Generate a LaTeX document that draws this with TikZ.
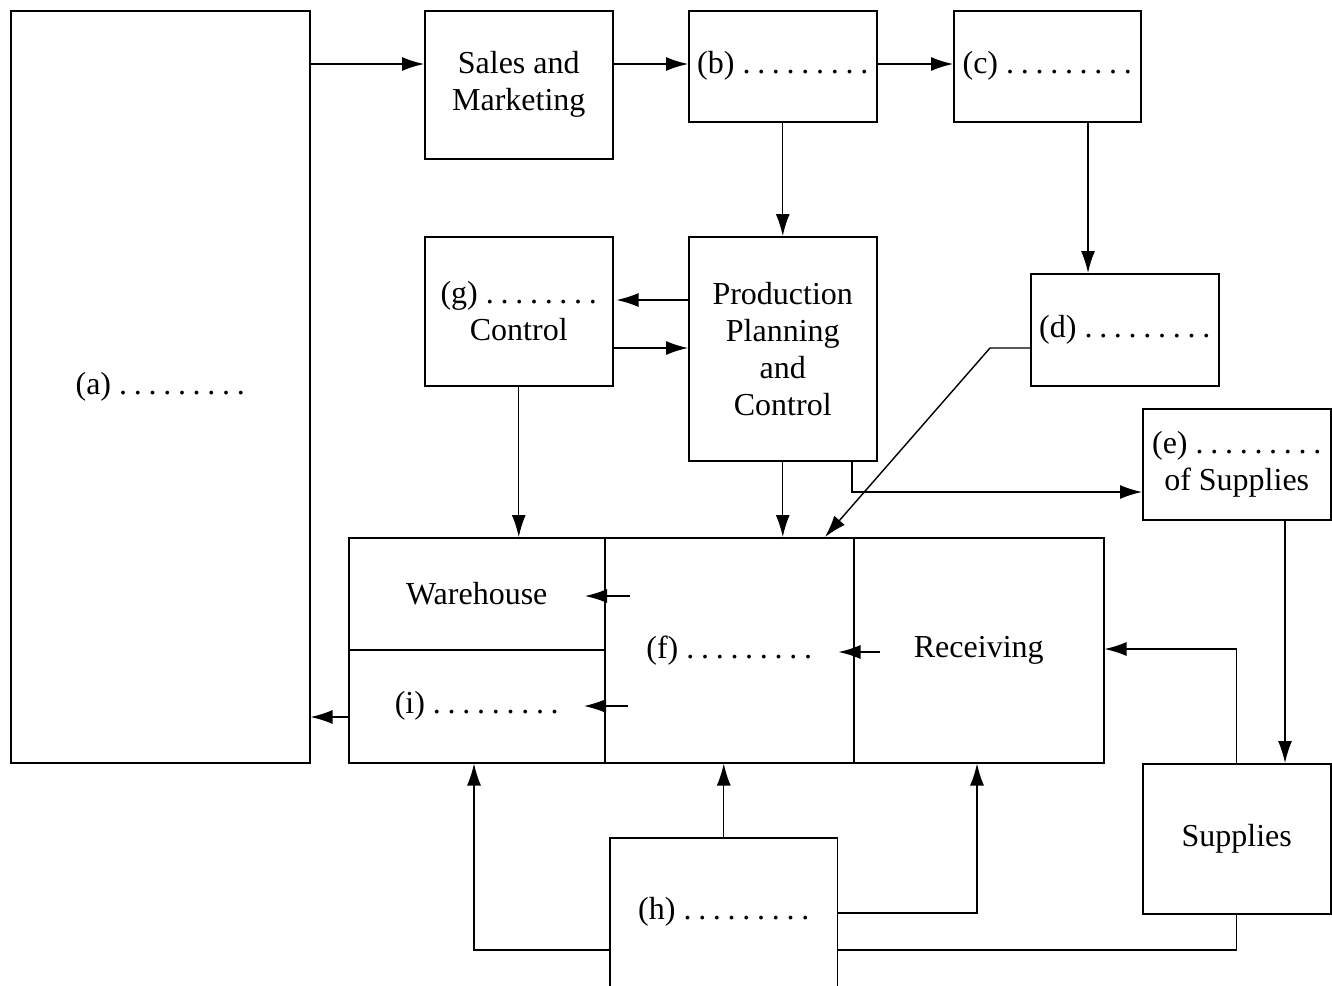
\documentclass[tikz,border=0pt]{standalone}
\usepackage{fontspec}
\setmainfont{Liberation Serif}
\usetikzlibrary{arrows.meta}
\newcommand\dt{.\hspace{0.21em}}
\newcommand\ninedots{\dt\dt\dt\dt\dt\dt\dt\dt.}
\newcommand\eightdots{\dt\dt\dt\dt\dt\dt\dt.}
\begin{document}
\begin{tikzpicture}[x=1pt,y=-1pt,
  box/.style={draw, line width=1.5pt, inner sep=0pt, anchor=north west, align=center,
    font=\fontsize{32}{37}\selectfont},
  plain/.style={box, draw=none},
  arr/.style={line width=1.4pt, -{Latex[length=22pt,width=14pt]}},
  ln/.style={line width=1.4pt}]
\useasboundingbox (0,0) rectangle (1332,985);

% blocks
\node[box, minimum width=299pt, minimum height=752pt] (a) at (10,10) {(a) \ninedots};
\node[box, minimum width=188pt, minimum height=148pt] (sm) at (424,10) {Sales and\\Marketing};
\node[box, minimum width=188pt, minimum height=111pt] (b) at (688,10) {(b) \ninedots};
\node[box, minimum width=187pt, minimum height=111pt] (c) at (953,10) {(c) \ninedots};
\node[box, minimum width=188pt, minimum height=149pt] (g) at (424,236) {(g) \eightdots\\Control};
\node[box, minimum width=188pt, minimum height=224pt] (ppc) at (688,236) {Production\\Planning\\and\\Control};
\node[box, minimum width=188pt, minimum height=112pt] (d) at (1030,273) {(d) \ninedots};
\node[box, minimum width=188pt, minimum height=111pt] (e) at (1142,408) {(e) \ninedots\\of Supplies};
\node[box, minimum width=256pt, minimum height=112pt] (wh) at (348,537) {Warehouse};
\node[box, minimum width=256pt, minimum height=113pt] (i) at (348,649) {(i) \ninedots};
\node[box, minimum width=249pt, minimum height=225pt] (f) at (604,537) {(f) \ninedots};
\node[box, minimum width=250pt, minimum height=225pt] (rc) at (853,537) {Receiving};
\node[box, minimum width=188pt, minimum height=150pt] (sup) at (1142,763) {Supplies};
\node[plain, minimum width=226pt, minimum height=147pt] (h) at (610,838) {(h) \ninedots};
\draw[line width=1.5pt] (h.south west) -- (h.north west) -- (h.north east) -- (h.south east);

% reference rows and columns for the connectors
\coordinate (r64) at (0,64);
\coordinate (r300) at (0,300);
\coordinate (r348) at (0,348);
\coordinate (r492) at (0,492);
\coordinate (r596) at (0,596);
\coordinate (r649) at (0,649);
\coordinate (r652) at (0,652);
\coordinate (r706) at (0,706);
\coordinate (r717) at (0,717);
\coordinate (r913) at (0,913);
\coordinate (r950) at (0,950);
\coordinate (x474) at (474,0);
\coordinate (x825) at (825,0);
\coordinate (x852) at (852,0);
\coordinate (x977) at (977,0);
\coordinate (x990) at (990,0);
\coordinate (x1088) at (1088,0);
\coordinate (x1285) at (1285,0);
\coordinate (fw1) at (630,596);
\coordinate (fw2) at (628,706);
\coordinate (rf1) at (880,652);

% top row
\draw[arr] (a.east |- r64) -- (sm.west |- r64);
\draw[arr] (sm.east |- r64) -- (b.west |- r64);
\draw[arr] (b.east |- r64) -- (c.west |- r64);
\draw[arr] (b.south) -- (ppc.north);
\draw[arr] (c.south -| x1088) -- (d.north -| x1088);

% planning and control
\draw[arr, shorten >=3pt] (ppc.west |- r300) -- (g.east |- r300);
\draw[arr] (g.east |- r348) -- (ppc.west |- r348);
\draw[arr] (g.south) -- (g.south |- wh.north);
\draw[arr] (ppc.south) -- (ppc.south |- f.north);
\draw[arr] (ppc.south -| x852) -- (x852 |- r492) -- (e.west |- r492);
\draw[arr] (d.west |- r348) -- (x990 |- r348) -- (f.north -| x825);

% supplies loop
\draw[arr] (e.south -| x1285) -- (sup.north -| x1285);
\draw[arr] (sup.north) -- (sup.north |- r649) -- (rc.east |- r649);
\draw[ln] (sup.south) -- (sup.south |- r950) -- (h.east |- r950);

% inside the store block
\draw[arr] (rf1) -- (f.east |- r652) -- +(-16,0);
\draw[arr] (fw1) -- (f.west |- r596) -- +(-19,0);
\draw[arr] (fw2) -- (f.west |- r706) -- +(-20,0);
\draw[arr] (i.west |- r717) -- (a.east |- r717);

% from (h)
\draw[arr] (h.north) -- (h.north |- f.south);
\draw[arr] (h.east |- r913) -- (x977 |- r913) -- (rc.south -| x977);
\draw[arr] (h.west |- r950) -- (x474 |- r950) -- (i.south -| x474);
\end{tikzpicture}
\end{document}
